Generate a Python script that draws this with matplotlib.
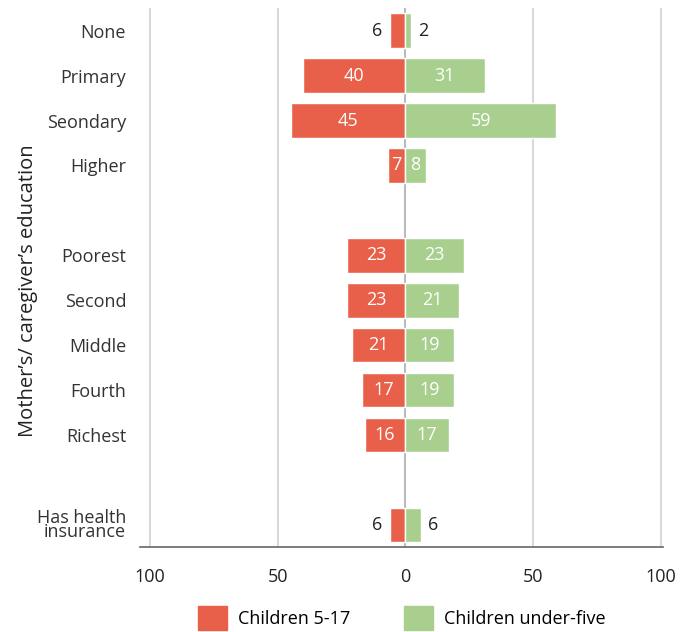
import numpy as np
import matplotlib
matplotlib.use('Agg')
from matplotlib import pyplot as plt
from matplotlib.patches import Patch

categories = ['None', 'Primary', 'Seondary', 'Higher', '',
              'Poorest', 'Second', 'Middle', 'Fourth', 'Richest', '',
              'Has health\ninsurance']
children_5_17 = [6, 40, 45, 7, None, 23, 23, 21, 17, 16, None, 6]
children_under5 = [2, 31, 59, 8, None, 23, 21, 19, 19, 17, None, 6]
xticks = [-100, -50, 0, 50, 100]
xticklabels = ['100', '50', '0', '50', '100']

red = '#E8604A'
green = '#A9CF8E'

plt.rcParams['font.family'] = ['Open Sans', 'DejaVu Sans']

fig = plt.figure(figsize=(6.93, 6.32), dpi=100)
ax = fig.add_axes([0.202, 0.134, 0.755, 0.853])

y = np.arange(len(categories))
for i, (a, b) in enumerate(zip(children_5_17, children_under5)):
    if a is None:
        continue
    ax.barh(i, -a, height=0.77, color=red, edgecolor='white', linewidth=1, zorder=3)
    ax.barh(i, b, height=0.77, color=green, edgecolor='white', linewidth=1, zorder=3)
    if a >= 7:
        ax.text(-a / 2, i, str(a), ha='center', va='center', color='white', fontsize=13, zorder=4)
    else:
        ax.text(-a - 3, i, str(a), ha='right', va='center', color='#222222', fontsize=13, zorder=4)
    if b >= 7:
        ax.text(b / 2, i, str(b), ha='center', va='center', color='white', fontsize=13, zorder=4)
    else:
        ax.text(b + 3, i, str(b), ha='left', va='center', color='#222222', fontsize=13, zorder=4)

ax.set_xlim(-104, 101)
ax.set_ylim(len(categories) - 0.5, -0.5)
ax.set_yticks(y)
ax.set_yticklabels(categories, fontsize=13, color='#333333', linespacing=0.75)
ax.set_xticks(xticks)
ax.set_xticklabels(xticklabels, fontsize=13, color='#222222')
ax.tick_params(axis='y', length=0, pad=10)
ax.tick_params(axis='x', length=0, pad=15)

for x in xticks:
    ax.axvline(x, color='#BBBBBB' if x == 0 else '#D9D9D9', linewidth=1.5, zorder=1)

for s in ['top', 'right', 'left']:
    ax.spines[s].set_visible(False)
ax.spines['bottom'].set_color('#666666')
ax.spines['bottom'].set_linewidth(1.2)

fig.text(0.04, 0.54, 'Mother\u2019s/ caregiver\u2019s education', rotation=90,
         ha='center', va='center', fontsize=14.5, color='#222222')

handles = [Patch(color=red), Patch(color=green)]
fig.legend(handles, ['Children 5-17', 'Children under-five'], loc='center',
           bbox_to_anchor=(0.58, 0.022), ncol=2, frameon=False, fontsize=13,
           handlelength=1.6, handleheight=1.7, columnspacing=3.0, handletextpad=0.6)

fig.savefig('out.png', dpi=100)
